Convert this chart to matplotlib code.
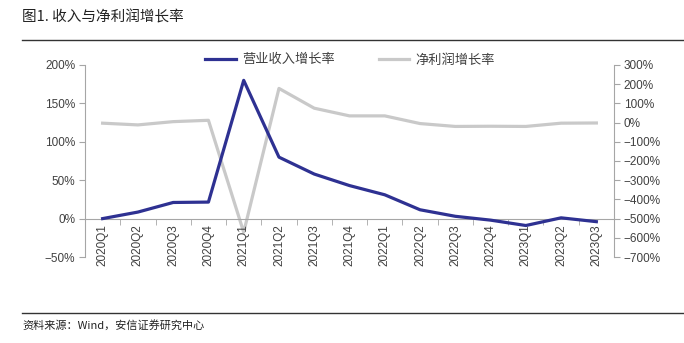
import matplotlib
matplotlib.use('Agg')
import matplotlib.pyplot as plt
from matplotlib.ticker import FuncFormatter, FixedLocator

plt.rcParams['font.family'] = ['Liberation Sans', 'Noto Sans CJK SC', 'DejaVu Sans']

quarters = ['2020Q1', '2020Q2', '2020Q3', '2020Q4', '2021Q1', '2021Q2', '2021Q3', '2021Q4',
            '2022Q1', '2022Q2', '2022Q3', '2022Q4', '2023Q1', '2023Q2', '2023Q3']
# 营业收入增长率 (left axis), 净利润增长率 (right axis), as fractions
revenue_growth = [0.00, 0.085, 0.21, 0.215, 1.80, 0.80, 0.58, 0.43, 0.31, 0.115, 0.03, -0.02, -0.09, 0.01, -0.04]
profit_growth = [-0.03, -0.12, 0.05, 0.12, -5.71, 1.78, 0.75, 0.35, 0.35, -0.05, -0.20, -0.19, -0.20, -0.03, -0.02]

blue = '#2E3192'
grey = '#C9C9C9'
txt = '#404040'
axcol = '#A6A6A6'

fig = plt.figure(figsize=(6.84, 3.43), dpi=100)
ax = fig.add_axes([85 / 684, 1 - 257 / 343, (614 - 85) / 684, (257 - 65) / 343])
ax2 = ax.twinx()

x = list(range(len(quarters)))
ax.plot(x, revenue_growth, color=blue, lw=2.3, zorder=3, label='营业收入增长率')
ax2.plot(x, profit_growth, color=grey, lw=2.3, zorder=2, label='净利润增长率')
ax.set_zorder(ax2.get_zorder() + 1)
ax.patch.set_visible(False)

ax.set_xlim(-0.5, len(quarters) - 0.5)
ax.set_ylim(-0.5, 2.0)
ax2.set_ylim(-7, 3)
ax.set_yticks([-0.5, 0, 0.5, 1.0, 1.5, 2.0])
ax2.set_yticks([-7, -6, -5, -4, -3, -2, -1, 0, 1, 2, 3])

pct = FuncFormatter(lambda v, p: f'{v * 100:.0f}%'.replace('-', '\u2212'))
ax.yaxis.set_major_formatter(pct)
ax2.yaxis.set_major_formatter(pct)

ax.set_xticks(x)
ax.set_xticklabels(quarters)
ax.xaxis.set_minor_locator(FixedLocator([i + 0.5 for i in range(-1, len(quarters))]))
ax.tick_params(axis='x', which='major', length=0, pad=4, labelrotation=90, labelsize=8.5, labelcolor=txt)
ax.tick_params(axis='x', which='minor', length=4, color=axcol, direction='out')
ax.tick_params(axis='y', length=4, color=axcol, labelsize=8.5, labelcolor=txt, pad=3)
ax2.tick_params(axis='y', length=4, color=axcol, labelsize=8.5, labelcolor=txt, pad=3)

for a in (ax, ax2):
    a.spines['top'].set_visible(False)
    for s in ('left', 'right', 'bottom'):
        a.spines[s].set_color(axcol)
        a.spines[s].set_linewidth(0.8)
ax.spines['right'].set_visible(False)
ax2.spines['left'].set_visible(False)
ax2.spines['bottom'].set_visible(False)
ax.spines['bottom'].set_position(('data', 0))

h1, l1 = ax.get_legend_handles_labels()
h2, l2 = ax2.get_legend_handles_labels()
fig.legend(h1 + h2, l1 + l2, loc='center', bbox_to_anchor=(0.512, 1 - 60 / 343), ncol=2,
           frameon=False, handlelength=2.3, columnspacing=3.3, handletextpad=0.5,
           labelcolor=txt, prop={'family': ['Noto Sans CJK SC', 'DejaVu Sans'], 'size': 9.5})

fig.text(22 / 684, 1 - 17 / 343, '图1. 收入与净利润增长率', fontsize=10.5, color='#222222',
         family=['Noto Sans CJK SC', 'DejaVu Sans'], va='center', ha='left')
fig.add_artist(plt.Line2D([22 / 684, 1], [1 - 40 / 343] * 2, color='#333333', lw=1))
fig.add_artist(plt.Line2D([22 / 684, 1], [1 - 313 / 343] * 2, color='#333333', lw=1))
fig.text(22 / 684, 1 - 325 / 343, '资料来源：Wind，安信证券研究中心', fontsize=8, color='#222222',
         family=['Noto Sans CJK SC', 'DejaVu Sans'], va='center', ha='left')

fig.savefig('out.png', dpi=100)
